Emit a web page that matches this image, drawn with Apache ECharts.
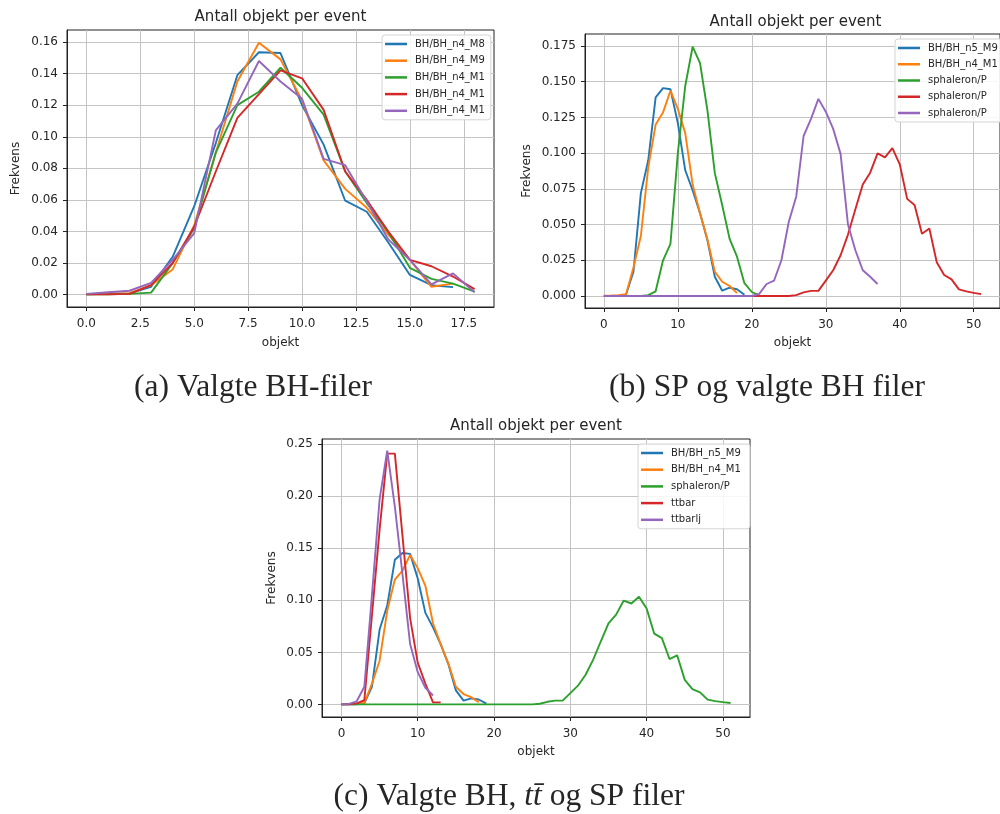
<!DOCTYPE html>
<html>
<head>
<meta charset="utf-8">
<script src="https://cdn.jsdelivr.net/npm/echarts@6/dist/echarts.min.js"></script>
<style>
html, body { margin: 0; padding: 0; background: #fff; overflow: hidden; }
#chart { width: 1000px; height: 814px; }
</style>
</head>
<body>
<div id="chart"></div>
<script>
// Frequency per number of objects; index i of each array is the object count i.

// (a) selected BH files
const bhN4M8  = [0.0003, 0.0005, 0.0008, 0.005, 0.024, 0.056, 0.096, 0.139, 0.1535, 0.153, 0.12, 0.095, 0.0595, 0.0525, 0.033, 0.0125, 0.006, 0.0048];
const bhN4M9  = [0.0003, 0.0006, 0.001, 0.006, 0.016, 0.044, 0.09, 0.135, 0.1595, 0.149, 0.123, 0.085, 0.067, 0.055, 0.038, 0.022, 0.005, 0.007];
const bhN4M1  = [0.0002, 0.0003, 0.0005, 0.0013, 0.02, 0.042, 0.09, 0.12, 0.1285, 0.1437, 0.131, 0.114, 0.078, 0.058, 0.0395, 0.017, 0.01, 0.007, 0.002];
const bhN4M1b = [0.0002, 0.0003, 0.0005, 0.006, 0.02, 0.043, 0.078, 0.112, 0.127, 0.142, 0.137, 0.117, 0.078, 0.06, 0.04, 0.022, 0.018, 0.0115, 0.0035];
const bhN4M1c = [0.0005, 0.0015, 0.0025, 0.0075, 0.022, 0.039, 0.104, 0.121, 0.148, 0.135, 0.124, 0.086, 0.082, 0.059, 0.035, 0.022, 0.0065, 0.0135, 0.0015];

// (b) sphaleron samples and BH
const bhN5M9  = [0, 0, 0, 0.001, 0.017, 0.072, 0.095, 0.139, 0.1455, 0.1447, 0.121, 0.088, 0.074, 0.058, 0.039, 0.0135, 0.0037, 0.0058, 0.0047, 0.0008];
const sphLow  = [0, 0, 0, 0, 0, 0, 0.0006, 0.0033, 0.025, 0.0365, 0.1, 0.147, 0.1745, 0.163, 0.13, 0.086, 0.0635, 0.04, 0.0275, 0.009, 0.0028, 0.0005];
const sphHigh = [0, 0, 0, 0, 0, 0, 0, 0, 0, 0, 0, 0, 0, 0, 0, 0, 0, 0, 0, 0, 0, 0, 0, 0, 0, 0, 0.0006,
                 0.0025, 0.0036, 0.0036, 0.0108, 0.018, 0.0285, 0.043, 0.0607, 0.078, 0.0863, 0.0998, 0.097, 0.1035,
                 0.0922, 0.068, 0.0637, 0.0436, 0.0472, 0.0236, 0.0147, 0.0116, 0.0046, 0.0032, 0.0022, 0.0013];
const sphMid  = [0, 0, 0, 0, 0, 0, 0, 0, 0, 0, 0, 0, 0, 0, 0, 0, 0, 0, 0, 0, 0,
                 0.0015, 0.0084, 0.0107, 0.025, 0.052, 0.0695, 0.112, 0.124, 0.138, 0.129, 0.117, 0.0995, 0.05, 0.032, 0.018, 0.0135, 0.0084];

// (c) ttbar samples
const ttbar   = [0, 0, 0.001, 0.004, 0.086, 0.168, 0.241, 0.241, 0.162, 0.083, 0.04, 0.02, 0.002, 0.002];
const ttbarlj = [0.0002, 0.0005, 0.003, 0.017, 0.105, 0.197, 0.244, 0.19, 0.125, 0.058, 0.031, 0.016, 0.0086];

// Tick values
const xTicksA = [0, 2.5, 5, 7.5, 10, 12.5, 15, 17.5];
const yTicksA = [0, 0.02, 0.04, 0.06, 0.08, 0.10, 0.12, 0.14, 0.16];
const xTicksBC = [0, 10, 20, 30, 40, 50];
const yTicksB = [0, 0.025, 0.05, 0.075, 0.1, 0.125, 0.15, 0.175];
const yTicksC = [0, 0.05, 0.1, 0.15, 0.2, 0.25];

// Texts
const plotTitle = 'Antall objekt per event';
const xName = 'objekt';
const yName = 'Frekvens';
const captionA = '(a) Valgte BH-filer';
const captionB = '(b) SP og valgte BH filer';
const captionC = ['(c) Valgte BH, ', 't\u0074\u0304', ' og SP filer'];

const TAB = ['#1f77b4', '#ff7f0e', '#2ca02c', '#d62728', '#9467bd'];
const SANS = 'DejaVu Sans';
const INK = '#262626';

function xAxisCfg(idx, min, max, ticks, digits, gap) {
  return {
    type: 'value', gridIndex: idx, min: min, max: max,
    axisLine: { onZero: false, lineStyle: { color: '#222', width: 1 } },
    axisTick: { customValues: ticks, length: 4, lineStyle: { color: '#222' } },
    axisLabel: { customValues: ticks, formatter: v => v.toFixed(digits), margin: 11,
                 color: INK, fontSize: 12, fontFamily: SANS },
    splitLine: { show: true, lineStyle: { color: '#c4c4c4', width: 1 } },
    name: xName, nameLocation: 'middle', nameGap: gap,
    nameTextStyle: { color: INK, fontSize: 12, fontFamily: SANS }
  };
}
function yAxisCfg(idx, min, max, ticks, digits, gap) {
  return {
    type: 'value', gridIndex: idx, min: min, max: max,
    axisLine: { onZero: false, show: true, lineStyle: { color: '#222', width: 1 } },
    axisTick: { show: true, customValues: ticks, length: 4, lineStyle: { color: '#222' } },
    axisLabel: { customValues: ticks, formatter: v => v.toFixed(digits), margin: 9,
                 color: INK, fontSize: 12, fontFamily: SANS },
    splitLine: { show: true, lineStyle: { color: '#c4c4c4', width: 1 } },
    name: yName, nameLocation: 'middle', nameGap: gap, nameRotate: 90,
    nameTextStyle: { color: INK, fontSize: 12, fontFamily: SANS }
  };
}
function line(name, values, color, idx) {
  return {
    type: 'line', name: name, xAxisIndex: idx, yAxisIndex: idx,
    data: values.map((v, i) => [i, v]),
    showSymbol: false, symbol: 'none', silent: true,
    lineStyle: { width: 1.9, color: color }, itemStyle: { color: color }
  };
}
function legendCfg(names, left, top, gap) {
  return {
    data: names, orient: 'vertical', left: left, top: top,
    icon: 'rect', itemWidth: 22, itemHeight: 2.5, itemGap: gap,
    selectedMode: false,
    formatter: n => n.split('#')[0],
    textStyle: { fontSize: 10, fontFamily: SANS, color: INK, lineHeight: 14, padding: [0, 0, 0, 3] },
    padding: [2, 6, 2, 3],
    backgroundColor: 'rgba(255,255,255,0.85)', borderColor: '#d4d4d4', borderWidth: 1, borderRadius: 3
  };
}
function centered(text, x, y, font) {
  return { type: 'text', x: x, y: y, silent: true,
           style: { text: text, font: font, fill: INK, align: 'center', verticalAlign: 'middle' } };
}

const serif = '31.5px "Liberation Serif", serif';

const namesA = ['BH/BH_n4_M8', 'BH/BH_n4_M9', 'BH/BH_n4_M1#1', 'BH/BH_n4_M1#2', 'BH/BH_n4_M1#3'];
const namesB = ['BH/BH_n5_M9', 'BH/BH_n4_M1', 'sphaleron/P#1', 'sphaleron/P#2', 'sphaleron/P#3'];
const namesC = ['BH/BH_n5_M9 ', 'BH/BH_n4_M1 ', 'sphaleron/P', 'ttbar', 'ttbarlj'];

const option = {
  animation: false,
  backgroundColor: '#fff',
  grid: [
    { left: 67, top: 30, width: 427, height: 277, show: true, borderColor: '#222', borderWidth: 1 },
    { left: 585, top: 34, width: 421, height: 274, show: true, borderColor: '#222', borderWidth: 1 },
    { left: 322, top: 439, width: 428, height: 278, show: true, borderColor: '#222', borderWidth: 1 }
  ],
  xAxis: [
    xAxisCfg(0, -0.9, 18.9, xTicksA, 1, 30),
    xAxisCfg(1, -2.55, 53.55, xTicksBC, 0, 29),
    xAxisCfg(2, -2.55, 53.55, xTicksBC, 0, 29)
  ],
  yAxis: [
    yAxisCfg(0, -0.0078, 0.1676, yTicksA, 2, 45),
    yAxisCfg(1, -0.0084, 0.1834, yTicksB, 3, 52),
    yAxisCfg(2, -0.0121, 0.2551, yTicksC, 2, 44)
  ],
  legend: [
    legendCfg(namesA, 382, 35, 2.7),
    legendCfg(namesB, 895, 39, 2.25),
    legendCfg(namesC, 638, 444, 2.7)
  ],
  series: [
    line(namesA[0], bhN4M8, TAB[0], 0),
    line(namesA[1], bhN4M9, TAB[1], 0),
    line(namesA[2], bhN4M1, TAB[2], 0),
    line(namesA[3], bhN4M1b, TAB[3], 0),
    line(namesA[4], bhN4M1c, TAB[4], 0),

    line(namesB[0], bhN5M9, TAB[0], 1),
    line(namesB[1], bhN4M1, TAB[1], 1),
    line(namesB[2], sphLow, TAB[2], 1),
    line(namesB[3], sphHigh, TAB[3], 1),
    line(namesB[4], sphMid, TAB[4], 1),

    line(namesC[0], bhN5M9, TAB[0], 2),
    line(namesC[1], bhN4M1, TAB[1], 2),
    line(namesC[2], sphHigh, TAB[2], 2),
    line(namesC[3], ttbar, TAB[3], 2),
    line(namesC[4], ttbarlj, TAB[4], 2)
  ],
  graphic: [
    centered(plotTitle, 280.5, 17, '15px "DejaVu Sans"'),
    centered(plotTitle, 795.5, 22, '15px "DejaVu Sans"'),
    centered(plotTitle, 536, 426, '15px "DejaVu Sans"'),
    centered(captionA, 253, 388, serif),
    centered(captionB, 767, 388, serif),
    {
      type: 'text', x: 509, y: 797, silent: true,
      style: {
        text: '{n|' + captionC[0] + '}{i|' + captionC[1] + '}{n|' + captionC[2] + '}',
        align: 'center', verticalAlign: 'middle', fill: INK,
        rich: {
          n: { font: serif, fill: INK },
          i: { font: 'italic ' + serif, fill: INK }
        }
      }
    }
  ]
};

const chart = echarts.init(document.getElementById('chart'), null, { renderer: 'canvas' });
chart.setOption(option);
</script>
</body>
</html>
